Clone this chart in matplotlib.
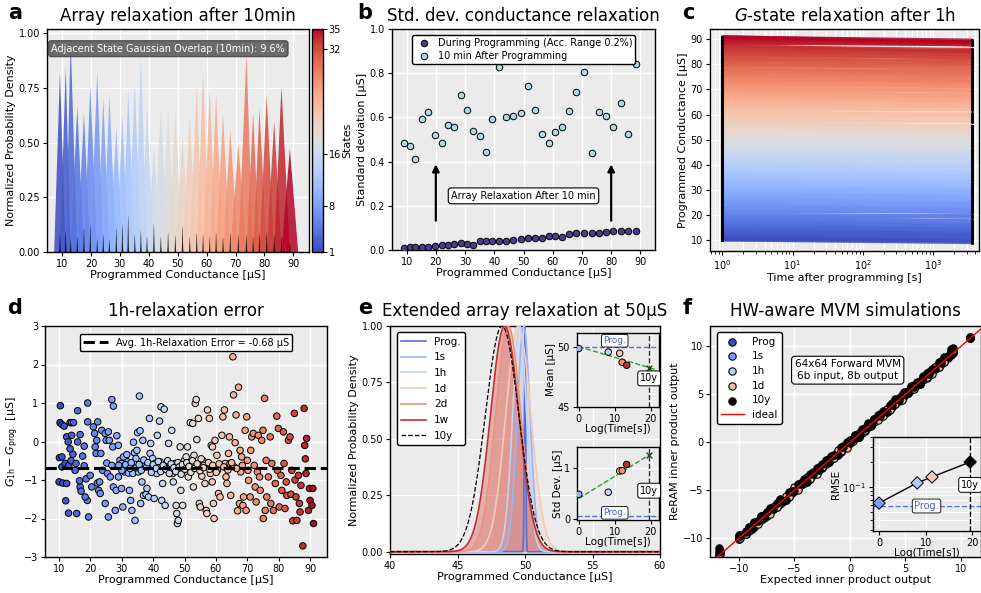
import numpy as np
import matplotlib
matplotlib.use("Agg")
import matplotlib.pyplot as plt
from matplotlib.colors import Normalize
from matplotlib.cm import ScalarMappable
from matplotlib.collections import LineCollection
from matplotlib.ticker import NullFormatter, FormatStrFormatter

# ---------------- data ----------------
# 35 programmed conductance states
state_ids = list(range(1, 36))
state_g = [9.1, 11.1, 12.8, 15.1, 17.4, 19.6, 22.0, 24.1, 26.2, 28.6,
           30.7, 32.7, 35.0, 37.1, 39.2, 41.6, 44.0, 46.5, 49.0, 51.5,
           54.0, 56.4, 58.6, 60.9, 63.1, 65.5, 68.0, 70.8, 73.6, 75.9,
           78.1, 80.6, 83.2, 85.7, 88.6]
std_prog = [0.008, 0.012, 0.015, 0.015, 0.014, 0.020, 0.023, 0.024, 0.026, 0.030,
            0.029, 0.023, 0.039, 0.042, 0.041, 0.039, 0.042, 0.044, 0.048, 0.053,
            0.055, 0.055, 0.065, 0.062, 0.058, 0.073, 0.076, 0.079, 0.079, 0.076,
            0.083, 0.085, 0.086, 0.088, 0.088]
std_10min = [0.485, 0.470, 0.410, 0.595, 0.625, 0.520, 0.485, 0.565, 0.555, 0.700,
             0.635, 0.540, 0.515, 0.445, 0.595, 0.830, 0.600, 0.605, 0.620, 0.740,
             0.635, 0.525, 0.485, 0.535, 0.555, 0.630, 0.715, 0.805, 0.440, 0.625,
             0.605, 0.555, 0.665, 0.525, 0.840]
spike_height = [0.09, 0.10, 0.06, 0.07, 0.11, 0.13, 0.06, 0.08, 0.06, 0.11,
                0.13, 0.17, 0.08, 0.10, 0.07, 0.13, 0.07, 0.09, 0.08, 0.12,
                0.07, 0.09, 0.08, 0.07, 0.09, 0.07, 0.09, 0.08, 0.08, 0.07,
                0.09, 0.09, 0.08, 0.07, 0.04]
overlap_pct = 9.6

# per-device 1h relaxation (programmed G, G_1h - G_prog)
d_g_prog = [10.4, 10.3, 10.9, 11.6, 10.1, 10.9, 10.0, 11.2, 12.4, 10.9,
            11.9, 12.4, 12.9, 13.5, 14.0, 14.6, 12.1, 13.0, 13.1, 13.8,
            14.4, 13.5, 14.0, 15.6, 15.9, 15.9, 16.7, 16.7, 17.0, 16.5,
            15.1, 15.4, 18.0, 17.5, 18.0, 19.1, 19.1, 18.6, 19.0, 19.4,
            18.3, 19.9, 20.4, 20.9, 21.3, 21.5, 22.0, 22.3, 21.8, 22.2,
            22.9, 22.6, 23.1, 23.6, 23.3, 23.9, 24.7, 25.0, 25.2, 25.4,
            25.7, 24.7, 26.0, 25.7, 26.8, 27.3, 27.1, 26.8, 26.3, 27.3,
            27.9, 28.2, 28.4, 28.9, 28.9, 29.4, 29.9, 29.9, 30.3, 30.5,
            30.7, 31.0, 31.6, 31.9, 32.1, 32.4, 32.8, 33.2, 33.5, 33.7,
            34.0, 34.2, 34.5, 34.8, 35.0, 35.6, 35.3, 35.8, 36.0, 36.4,
            36.7, 36.9, 37.4, 37.7, 38.0, 38.5, 38.8, 39.0, 39.2, 39.5,
            39.8, 40.3, 40.6, 41.1, 41.3, 42.0, 42.2, 42.5, 42.7, 43.0,
            43.5, 43.8, 44.3, 44.9, 45.4, 45.9, 46.2, 46.4, 47.0, 47.5,
            47.7, 48.0, 47.3, 48.6, 48.8, 49.1, 49.4, 49.6, 49.9, 50.5,
            50.9, 51.2, 51.8, 52.3, 52.6, 52.8, 53.0, 53.4, 53.7, 53.9,
            54.4, 54.7, 55.0, 55.5, 55.8, 56.2, 56.5, 56.9, 57.1, 57.3,
            57.9, 58.5, 58.9, 58.2, 58.8, 59.2, 59.4, 59.7, 60.3, 60.5,
            60.8, 61.3, 61.9, 62.2, 62.7, 63.0, 63.2, 63.5, 64.0, 64.3,
            64.5, 64.7, 65.4, 65.6, 65.8, 66.1, 66.4, 66.9, 67.2, 67.5,
            67.7, 67.9, 68.2, 68.6, 68.8, 69.3, 69.6, 69.8, 70.0, 70.4,
            70.9, 71.1, 71.4, 71.9, 72.2, 72.5, 72.8, 73.2, 73.5, 73.9,
            74.1, 74.6, 75.0, 75.1, 75.5, 75.7, 76.0, 76.2, 76.7, 77.3,
            77.5, 77.8, 78.3, 78.9, 79.4, 79.6, 79.9, 80.2, 80.7, 81.0,
            81.5, 81.7, 82.0, 82.4, 82.6, 83.1, 83.6, 83.9, 84.2, 84.5,
            85.0, 85.2, 85.5, 85.8, 86.3, 86.6, 86.8, 87.1, 87.7, 88.1,
            88.3, 88.5, 88.7, 88.9, 89.5, 89.8, 90.0, 90.6, 91.1, 90.9,
            29.0, 30.0, 31.2, 32.6, 33.0, 34.6, 35.5, 36.2, 37.0, 37.9,
            38.3, 39.4, 40.0, 40.9, 41.6, 42.4, 43.2, 44.0, 44.6, 45.1,
            45.7, 46.6, 47.2, 47.9, 48.3, 48.9, 49.3, 50.1, 50.7, 51.4,
            52.0, 52.5, 53.2, 54.0, 54.9, 55.3, 56.0, 57.6, 58.0, 59.0,
            60.1, 61.0, 62.5, 63.8, 65.0, 66.6, 68.4, 70.2]
d_err_1h = [0.93, 0.49, 0.44, 0.40, -0.42, -0.40, -1.05, -1.08, -1.09, -0.66,
            -0.57, 0.12, -0.01, 0.49, 0.49, 0.49, -1.54, -1.86, -0.62, -0.50,
            -0.33, -0.19, 0.16, -1.87, 0.80, -0.01, 0.18, -1.18, -1.29, -1.02,
            -0.75, -0.57, -0.63, -0.38, -0.12, 1.00, 0.51, -0.97, -1.53, -1.96,
            -1.44, -0.88, -1.18, 0.38, 0.21, -0.14, 0.03, 0.51, -0.31, -1.08,
            -1.05, -1.27, -1.35, 0.29, -0.31, -0.75, 0.21, 0.03, -0.56, -0.83,
            -1.96, -1.61, 0.03, 0.25, 1.09, 0.92, -0.14, -0.62, -0.92, -1.18,
            -1.79, -1.27, 0.15, -0.10, -0.92, -0.49, -0.57, -1.22, -1.70, -0.40,
            -0.66, -0.79, -0.34, -0.53, -0.82, -1.27, -1.53, -1.79, -0.83, -0.02,
            -0.29, -2.05, -0.44, -0.23, 0.23, 1.18, -0.79, 0.28, -1.61, -1.05,
            0.03, -1.40, -0.62, -1.37, -1.22, -1.44, 0.60, -0.31, -0.05, -0.66,
            -0.44, -1.48, -0.57, -0.83, 0.16, 0.53, -0.53, 0.90, -1.53, -1.09,
            0.84, -1.66, -0.57, -0.05, -0.66, 0.29, -0.83, -1.05, -0.57, -1.87,
            -2.13, -2.05, -1.66, -0.14, -1.27, -0.57, -1.66, -0.75, -0.50, -0.40,
            -0.14, -0.92, 0.49, -0.66, 0.47, -1.18, -0.36, 0.99, 1.09, 0.05,
            0.60, -1.61, -1.70, -0.90, -0.49, -0.62, -1.09, -1.79, -1.87, 0.82,
            0.60, -0.10, -0.14, -0.83, -1.05, -1.61, -2.00, 0.03, -0.36, -0.75,
            -1.35, -1.44, 0.16, 0.64, 0.82, -0.57, -0.92, -1.09, -0.31, 0.12,
            -0.57, -1.40, 2.20, 1.21, -0.66, -0.03, 0.69, -1.80, 1.41, -1.61,
            -0.23, -0.79, -0.40, -1.66, -1.44, 0.29, -1.79, 0.64, -0.49, -1.01,
            -1.44, -0.23, 0.12, 0.21, -0.62, -1.18, -1.57, -0.79, 0.16, -0.92,
            -1.27, 0.03, 0.29, -2.00, 1.12, -1.79, -0.49, -1.44, -0.92, 0.12,
            -1.61, -0.57, -1.79, -1.09, 0.66, -0.75, 0.34, -1.70, -0.88, -1.27,
            0.25, -0.57, -1.74, -1.05, -1.40, 0.03, 0.12, -1.37, -0.75, -2.06,
            0.73, -1.00, -1.44, -2.05, -0.88, -1.61, -1.83, -1.14, -2.71, 0.86,
            -0.10, -0.45, -0.83, 0.08, -1.79, -1.22, -1.53, -1.66, -2.13, -1.22,
            -0.62, -0.75, -0.60, -0.70, -0.55, -0.68, -0.60, -0.75, -0.48, -0.66,
            -0.55, -0.80, -0.60, -0.70, -0.52, -0.78, -0.62, -0.72, -0.50, -0.83,
            -0.58, -0.68, -0.78, -0.55, -0.66, -0.85, -0.60, -0.72, -0.55, -0.65,
            -0.80, -0.50, -0.70, -0.58, -0.76, -0.45, -0.68, -0.55, -0.72, -0.62,
            -0.80, -0.58, -0.66, -0.74, -0.55, -0.70, -0.62, -0.75]
avg_err_1h = -0.68
t_start, t_end = 1.0, 3600.0

# extended relaxation around the 50 uS state
e_labels = ["1s", "1h", "1d", "2d", "1w"]
e_logt = [0.0, 8.19, 11.37, 12.06, 13.31]
e_mean = [49.9, 49.6, 49.5, 48.75, 48.5]
e_std = [0.48, 0.52, 0.935, 0.94, 1.06]
prog_mean, prog_std = 50.0, 0.05
logt_10y = 19.57

# hardware-aware MVM simulation: expected outputs and per-timestamp deviations
f_expected = [-11.8, -11.7, -10.0, -9.9, -9.4, -9.1, -8.8, -8.6, -8.3, -8.0,
              -7.7, -7.5, -7.2, -6.9, -6.6, -6.3, -6.1, -5.8, -5.5, -5.2,
              -5.0, -4.7, -4.4, -4.1, -3.9, -3.6, -3.3, -3.0, -2.8, -2.5,
              -2.2, -1.9, -1.7, -1.4, -1.1, -0.8, -0.6, -0.3, 0.0, 0.3,
              0.5, 0.8, 1.1, 1.4, 1.6, 1.9, 2.2, 2.5, 2.7, 3.0,
              3.3, 3.6, 3.8, 4.1, 4.4, 4.7, 4.9, 5.2, 5.5, 5.8,
              6.0, 6.3, 6.6, 6.9, 7.1, 7.4, 7.7, 8.0, 8.2, 8.5,
              8.8, 9.1, 9.3, 10.8]
f_dev_prog = [0.00, 0.04, -0.03, 0.05, -0.02, 0.03, -0.05, 0.02, -0.04, 0.01,
              0.03, -0.02, 0.05, -0.04, 0.02, -0.01, 0.04, -0.05, 0.03, -0.02,
              0.01, -0.04, 0.05, -0.03, 0.02, -0.02, 0.04, -0.01, 0.03, -0.05,
              0.02, -0.03, 0.04, -0.02, 0.05, -0.04, 0.01, -0.03, 0.02, 0.04,
              -0.05, 0.03, -0.01, 0.02, -0.04, 0.05, -0.02, 0.03, -0.03, 0.01,
              0.04, -0.05, 0.02, -0.02, 0.03, -0.04, 0.05, -0.01, 0.02, -0.03,
              0.04, -0.02, 0.01, -0.05, 0.03, -0.03, 0.02, 0.05, -0.04, 0.01,
              0.03, -0.02, 0.04, 0.02]
f_dev_1s = [0.10, 0.12, -0.08, 0.09, -0.11, 0.06, -0.09, 0.12, -0.05, 0.08,
            -0.12, 0.07, -0.06, 0.11, -0.10, 0.05, -0.08, 0.12, -0.07, 0.09,
            -0.11, 0.06, -0.05, 0.10, -0.12, 0.08, -0.09, 0.11, -0.06, 0.07,
            -0.10, 0.12, -0.08, 0.05, -0.11, 0.09, -0.07, 0.10, -0.12, 0.06,
            -0.05, 0.11, -0.09, 0.08, -0.06, 0.12, -0.10, 0.07, -0.08, 0.09,
            -0.11, 0.05, -0.12, 0.10, -0.07, 0.08, -0.06, 0.11, -0.09, 0.12,
            -0.05, 0.07, -0.10, 0.09, -0.08, 0.06, -0.11, 0.12, -0.07, 0.10,
            -0.06, 0.15, 0.12, 0.08]
f_dev_1h = [0.30, 0.20, 0.15, -0.10, 0.18, -0.15, 0.12, -0.20, 0.08, -0.12,
            0.16, -0.18, 0.10, -0.08, 0.20, -0.14, 0.06, -0.19, 0.13, -0.10,
            0.18, -0.06, 0.15, -0.17, 0.09, -0.13, 0.19, -0.08, 0.11, -0.20,
            0.14, -0.09, 0.17, -0.15, 0.07, -0.18, 0.12, -0.11, 0.20, -0.06,
            0.16, -0.14, 0.08, -0.19, 0.13, -0.07, 0.18, -0.12, 0.10, -0.16,
            0.15, -0.09, 0.19, -0.13, 0.06, -0.17, 0.11, -0.10, 0.20, -0.08,
            0.14, -0.15, 0.09, -0.18, 0.17, -0.06, 0.12, -0.14, 0.20, -0.11,
            0.10, 0.25, 0.22, 0.12]
f_dev_1d = [0.50, 0.35, 0.25, 0.10, -0.15, 0.28, -0.20, 0.18, -0.25, 0.30,
            -0.10, 0.22, -0.28, 0.15, -0.18, 0.32, -0.12, 0.25, -0.22, 0.08,
            0.30, -0.26, 0.20, -0.14, 0.27, -0.20, 0.12, -0.30, 0.24, -0.08,
            0.29, -0.18, 0.16, -0.24, 0.33, -0.12, 0.21, -0.27, 0.10, -0.16,
            0.28, -0.22, 0.14, -0.10, 0.31, -0.25, 0.19, -0.15, 0.26, -0.28,
            0.11, -0.20, 0.30, -0.13, 0.23, -0.26, 0.17, -0.09, 0.32, -0.21,
            0.15, -0.24, 0.27, -0.11, 0.20, -0.29, 0.13, -0.17, 0.30, -0.14,
            0.22, 0.40, 0.35, 0.15]
f_dev_10y = [0.80, 0.40, 0.30, 0.25, 0.10, 0.30, -0.10, 0.25, 0.05, 0.35,
             -0.15, 0.20, 0.30, -0.05, 0.25, 0.40, 0.00, -0.20, 0.30, 0.15,
             -0.10, 0.35, 0.05, 0.25, -0.25, 0.30, 0.00, 0.35, -0.05, 0.20,
             0.40, -0.15, 0.25, 0.05, -0.20, 0.30, 0.10, 0.35, -0.10, 0.00,
             0.30, -0.25, 0.25, 0.05, 0.40, -0.10, 0.20, 0.35, 0.00, 0.25,
             -0.15, 0.30, 0.05, 0.40, -0.05, 0.20, 0.35, -0.10, 0.25, 0.00,
             0.30, -0.20, 0.15, 0.35, 0.05, 0.25, -0.10, 0.30, 0.00, 0.40,
             0.20, 0.60, 0.55, 0.10]
rmse_logt = [0.0, 8.19, 11.37, 19.57]
rmse_vals = [0.064, 0.112, 0.132, 0.20]
rmse_prog = 0.059

# ---------------- style ----------------
plt.rcParams.update({
    "font.family": "DejaVu Sans",
    "font.size": 8,
    "axes.labelsize": 8,
    "xtick.labelsize": 7,
    "ytick.labelsize": 7,
    "legend.fontsize": 7,
})
cmap = plt.get_cmap("coolwarm")
BG = "#ebebeb"
W, H = 981.0, 593.0


def box(x0, y0, x1, y1):
    return [x0 / W, 1 - y1 / H, (x1 - x0) / W, (y1 - y0) / H]


def style(ax, fs=7):
    ax.set_facecolor(BG)
    ax.grid(True, color="white", lw=1.0)
    ax.set_axisbelow(True)
    for s in ax.spines.values():
        s.set_color("black")
        s.set_linewidth(1.0)
    ax.tick_params(labelsize=fs, length=3, width=0.8, pad=2)


fig = plt.figure(figsize=(9.81, 5.93), dpi=100)


def letter(x, y, s):
    fig.text(x / W, 1 - y / H, s, fontsize=15, fontweight="bold",
             ha="center", va="center")


# ---------------- a ----------------
axA = fig.add_axes(box(47, 29, 309, 252))
style(axA)
# the Gaussian of each state is evaluated on the grid of state levels
# (padded by one level spacing at each end)
sg = np.array(state_g)
grid_a = np.concatenate([[2 * sg[0] - sg[1]], sg, [2 * sg[-1] - sg[-2]]])
normA = Normalize(1, 35)
for sid, g, s in zip(state_ids, state_g, std_10min):
    pdf = np.exp(-0.5 * ((grid_a - g) / s) ** 2) / (s * np.sqrt(2 * np.pi))
    axA.fill_between(grid_a, 0, pdf, color=cmap(normA(sid)), alpha=0.85, lw=0)
xs = np.linspace(4.8, 95.4, 6000)
for g, h in zip(state_g, spike_height):
    axA.fill_between(xs, 0, h * np.exp(-0.5 * ((xs - g) / 0.12) ** 2),
                     color="black", alpha=0.85, lw=0)
axA.set_xlim(4.8, 95.4)
axA.set_ylim(0, 1.02)
axA.set_xticks(range(10, 91, 10))
axA.set_yticks([0, 0.25, 0.5, 0.75, 1.0])
axA.yaxis.set_major_formatter(FormatStrFormatter("%.2f"))
axA.set_xlabel("Programmed Conductance [μS]", labelpad=1)
axA.set_ylabel("Normalized Probability Density", labelpad=2)
axA.text(6.3, 0.93, f"Adjacent State Gaussian Overlap (10min): {overlap_pct}%",
         fontsize=7, color="white", va="center", ha="left",
         bbox=dict(boxstyle="round,pad=0.3", fc="#555555", ec="#444444", alpha=0.85))
axA.set_title("Array relaxation after 10min", fontsize=12, pad=6)
caxA = fig.add_axes(box(312, 29, 323, 252))
cb = fig.colorbar(ScalarMappable(norm=normA, cmap=cmap), cax=caxA,
                  ticks=[1, 8, 16, 32, 35])
cb.outline.set_linewidth(1.0)
cb.ax.tick_params(labelsize=7, length=3, pad=1)
cb.set_label("States", fontsize=8, labelpad=1)
letter(15, 13, "a")

# ---------------- b ----------------
axB = fig.add_axes(box(392, 29, 655, 250))
style(axB)
axB.scatter(state_g, std_prog, s=22, color="#4e3b8c", edgecolors="black",
            linewidths=0.7, zorder=3, label="During Programming (Acc. Range 0.2%)")
axB.scatter(state_g, std_10min, s=22, color="lightblue", edgecolors="black",
            linewidths=0.7, zorder=3, label="10 min After Programming")
for xa in (20, 80):
    axB.annotate("", xy=(xa, 0.40), xytext=(xa, 0.12),
                 arrowprops=dict(arrowstyle="-|>,head_width=0.25,head_length=0.5",
                                 color="black", lw=1.6))
axB.text(50, 0.245, "Array Relaxation After 10 min", fontsize=7, ha="center", va="center",
         bbox=dict(boxstyle="round,pad=0.3", fc="white", ec="black", lw=0.8))
axB.set_xlim(5, 95)
axB.set_ylim(0, 1.0)
axB.set_xticks(range(10, 91, 10))
axB.set_yticks([0, 0.2, 0.4, 0.6, 0.8, 1.0])
axB.set_xlabel("Programmed Conductance [μS]", labelpad=1)
axB.set_ylabel("Standard deviation [μS]", labelpad=2)
lg = axB.legend(loc="upper center", fontsize=7, framealpha=1, edgecolor="black",
                borderpad=0.3, handletextpad=0.4, labelspacing=0.3,
                bbox_to_anchor=(0.5, 0.995))
lg.get_frame().set_linewidth(1.0)
axB.set_title("Std. dev. conductance relaxation", fontsize=12, pad=6)
letter(365, 13, "b")

# ---------------- c ----------------
axC = fig.add_axes(box(710, 29, 979, 251))
style(axC)
axC.set_xscale("log")
axC.grid(True, which="minor", axis="x", color="white", lw=0.8)
normD = Normalize(min(d_g_prog), max(d_g_prog))
order = np.argsort(d_g_prog)
g0 = np.array(d_g_prog)[order]
g1 = g0 + np.array(d_err_1h)[order]
segs = [[(t_start, a), (t_end, b)] for a, b in zip(g0, g1)]
lc = LineCollection(segs, colors=cmap(normD(g0)), linewidths=2.2, alpha=0.85, zorder=2)
axC.add_collection(lc)
axC.scatter(np.full(len(g0), t_start), g0, s=5, color="black", zorder=3, linewidths=0)
axC.scatter(np.full(len(g1), t_end), g1, s=5, color="black", zorder=3, linewidths=0)
axC.set_xlim(0.67, 4500)
axC.set_ylim(5.6, 94.1)
axC.set_yticks(range(10, 91, 10))
axC.set_xlabel("Time after programming [s]", labelpad=1)
axC.set_ylabel("Programmed Conductance [μS]", labelpad=2)
axC.set_title("$G$-state relaxation after 1h", fontsize=12, pad=6)
letter(688, 13, "c")

# ---------------- d ----------------
axD = fig.add_axes(box(45, 326, 327, 557))
style(axD)
axD.scatter(d_g_prog, d_err_1h, c=d_g_prog, cmap=cmap, norm=normD, s=22,
            edgecolors="black", linewidths=0.7, zorder=3)
axD.axhline(avg_err_1h, color="black", ls="--", lw=2.2, zorder=4,
            label=f"Avg. 1h-Relaxation Error = {avg_err_1h} μS")
axD.set_xlim(5.5, 95.4)
axD.set_ylim(-3, 3)
axD.set_xticks(range(10, 91, 10))
axD.set_yticks(range(-3, 4))
axD.set_xlabel("Programmed Conductance [μS]", labelpad=1)
axD.set_ylabel(r"$G_{\mathrm{1h}} - G_{\mathrm{prog.}}$ [μS]", labelpad=2)
lg = axD.legend(loc="upper center", fontsize=7, framealpha=1, edgecolor="black",
                borderpad=0.35, handlelength=2.6, bbox_to_anchor=(0.5, 0.985))
lg.get_frame().set_linewidth(1.0)
axD.set_title("1h-relaxation error", fontsize=12, pad=7)
letter(15, 308, "d")

# ---------------- e ----------------
axE = fig.add_axes(box(390, 326, 660, 554))
style(axE)
xe = np.linspace(40, 60, 8001)
c_prog = cmap(0.08)
e_colors = [cmap(0.27), cmap(0.40), cmap(0.60), cmap(0.77), cmap(0.96)]
axE.plot(xe, np.exp(-0.5 * ((xe - prog_mean) / prog_std) ** 2), color=c_prog,
         lw=1.2, label="Prog.", zorder=3)
for lab, m, s, col in zip(e_labels, e_mean, e_std, e_colors):
    y = np.exp(-0.5 * ((xe - m) / s) ** 2)
    axE.fill_between(xe, 0, y, color=col, alpha=0.3, lw=0)
    axE.plot(xe, y, color=col, lw=1.2, label=lab, zorder=3)
mfit = np.polyfit(e_logt, e_mean, 1)
sfit = np.polyfit(e_logt, e_std, 1)
m10 = np.polyval(mfit, logt_10y)
s10 = np.polyval(sfit, logt_10y)
axE.plot(xe, np.exp(-0.5 * ((xe - m10) / s10) ** 2), color="black", ls="--",
         lw=0.9, label="10y", zorder=4)
axE.set_xlim(40, 60)
axE.set_ylim(-0.01, 1.0)
axE.set_xticks([40, 45, 50, 55, 60])
axE.set_yticks([0, 0.25, 0.5, 0.75, 1.0])
axE.yaxis.set_major_formatter(FormatStrFormatter("%.2f"))
axE.set_xlabel("Programmed Conductance [μS]", labelpad=1)
axE.set_ylabel("Normalized Probability Density", labelpad=2)
lg = axE.legend(loc="upper left", fontsize=7.5, framealpha=1, edgecolor="black",
                handlelength=2.4, labelspacing=0.55, borderpad=0.4,
                bbox_to_anchor=(0.005, 0.995))
lg.get_frame().set_linewidth(1.0)
axE.set_title("Extended array relaxation at 50μS", fontsize=12, pad=7)
letter(365, 308, "e")

t_line = np.array([0, 21.0])
pt_colors = [cmap(0.27), cmap(0.40), cmap(0.62), cmap(0.77), cmap(0.96)]
for axI, vals, fit, prog, ylim, yt, ylab, y10, yprog, v10 in (
        (fig.add_axes(box(577, 333, 659, 407)), e_mean, mfit, prog_mean,
         (45, 51.2), [45, 50], "Mean [μS]", 47.4, 50.55, m10),
        (fig.add_axes(box(577, 447, 659, 520)), e_std, sfit, prog_std,
         (-0.02, 1.4), [0, 1], "Std Dev. [μS]", 0.55, 0.12, s10)):
    style(axI, fs=7)
    axI.axhline(prog, color=c_prog, ls="--", lw=1.0, zorder=2)
    axI.axvline(logt_10y, color="#333333", ls="--", lw=1.0, zorder=2)
    axI.plot(t_line, np.polyval(fit, t_line), color="#2ca02c", ls="--", lw=1.0, zorder=3)
    axI.scatter(e_logt, vals, s=22, c=pt_colors, edgecolors="black", linewidths=0.7, zorder=4)
    axI.scatter([logt_10y], [v10], marker="x", s=18, color="#1e3d1e", lw=0.9, zorder=5)
    axI.text(10, yprog, "Prog.", color="#4a62d4", fontsize=6.5, ha="center", va="center",
             bbox=dict(boxstyle="round,pad=0.2", fc="white", ec="black", lw=0.6))
    axI.text(logt_10y, y10, "10y", fontsize=7, ha="center", va="center",
             bbox=dict(boxstyle="round,pad=0.25", fc="white", ec="black", lw=0.7), zorder=6)
    axI.set_xlim(-0.5, 22.3)
    axI.set_ylim(*ylim)
    axI.set_yticks(yt)
    axI.set_xticks([0, 10, 20])
    axI.set_xlabel("Log(Time[s])", fontsize=7.5, labelpad=0)
    axI.set_ylabel(ylab, fontsize=7.5, labelpad=1)

# ---------------- f ----------------
axF = fig.add_axes(box(710, 326, 981, 557))
style(axF)
fx = np.array(f_expected)
f_series = [("Prog", cmap(0.0), f_dev_prog), ("1s", cmap(0.2), f_dev_1s),
            ("1h", cmap(0.38), f_dev_1h), ("1d", cmap(0.65), f_dev_1d),
            ("10y", "black", f_dev_10y)]
for lab, col, dev in f_series:
    axF.scatter(fx, fx + np.array(dev), s=28, color=col, edgecolors="black",
                linewidths=0.8, label=lab, zorder=3)
fxl = np.array([-12.6, 11.8])
axF.plot(fxl, fxl, color="red", lw=1.0, label="ideal", zorder=4)
axF.set_xlim(-12.6, 11.8)
axF.set_ylim(-11.95, 12.1)
axF.set_xticks([-10, -5, 0, 5, 10])
axF.set_yticks([-10, -5, 0, 5, 10])
axF.set_xlabel("Expected inner product output", labelpad=1)
axF.set_ylabel("ReRAM inner product output", labelpad=2)
lg = axF.legend(loc="upper left", fontsize=7.5, framealpha=1, edgecolor="black",
                labelspacing=0.45, borderpad=0.4, handlelength=2.2,
                bbox_to_anchor=(0.005, 0.995))
lg.get_frame().set_linewidth(1.0)
axF.text(-0.2, 7.5, "64x64 Forward MVM\n6b input, 8b output", fontsize=7.5,
         ha="center", va="center", linespacing=1.2,
         bbox=dict(boxstyle="round,pad=0.3", fc="white", ec="black", lw=0.8))
axF.set_title("HW-aware MVM simulations", fontsize=12, pad=7)
letter(687, 308, "f")

axFi = fig.add_axes(box(873, 437, 981, 531))
style(axFi, fs=7)
axFi.set_yscale("log")
axFi.axhline(rmse_prog, color=c_prog, ls="--", lw=1.0, zorder=2)
axFi.axvline(logt_10y, color="black", ls="--", lw=1.0, zorder=2)
axFi.plot(rmse_logt, rmse_vals, color="black", lw=1.0, zorder=3)
axFi.scatter(rmse_logt, rmse_vals, marker="D", s=40,
             c=[cmap(0.2), cmap(0.35), cmap(0.62), "black"],
             edgecolors="black", linewidths=0.7, zorder=4)
axFi.text(10.2, rmse_prog, "Prog.", color="#4a62d4", fontsize=7, ha="center", va="center",
          bbox=dict(boxstyle="round,pad=0.2", fc="white", ec="black", lw=0.6), zorder=5)
axFi.text(logt_10y, 0.106, "10y", fontsize=7, ha="center", va="center",
          bbox=dict(boxstyle="round,pad=0.25", fc="white", ec="black", lw=0.7), zorder=5)
axFi.set_xlim(-1.3, 21.9)
axFi.set_ylim(0.0295, 0.4)
axFi.set_xticks([0, 10, 20])
axFi.yaxis.set_minor_formatter(NullFormatter())
axFi.grid(True, which="minor", axis="y", color="white", lw=0.6)
axFi.set_xlabel("Log(Time[s])", fontsize=7.5, labelpad=0)
axFi.set_ylabel("RMSE", fontsize=7.5, labelpad=1)

fig.savefig("out.png", dpi=100)
